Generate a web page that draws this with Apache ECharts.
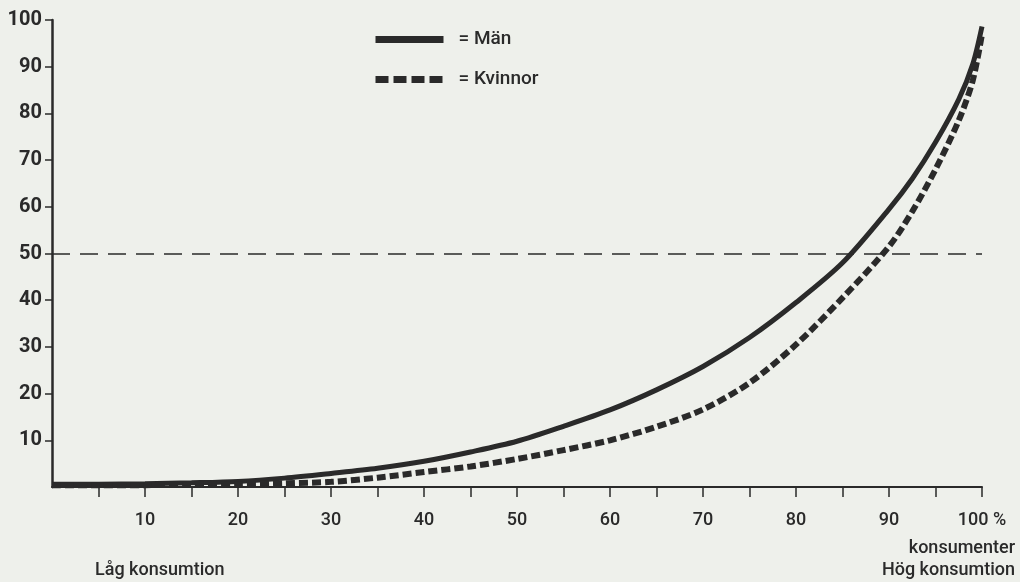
<!DOCTYPE html>
<html>
<head>
<meta charset="utf-8">
<script src="https://cdn.jsdelivr.net/npm/echarts@6/dist/echarts.min.js"></script>
<style>
html,body{margin:0;padding:0;background:#eef0eb;}
#chart{width:1020px;height:582px;}
</style>
</head>
<body>
<div id="chart"></div>
<script>
// Data
const xValues = [0,5,10,15,20,25,30,35,40,45,50,55,60,65,70,75,80,85,90,92.5,95,97.5,99,100];
const menValues = [0.6,0.6,0.7,0.9,1.2,1.9,2.9,4.0,5.5,7.5,9.8,13.0,16.5,20.8,25.8,32.0,39.5,48.0,59.5,66.0,73.8,83.0,90.5,98.6];
const womenValues = [0.4,0.4,0.4,0.5,0.6,0.8,1.1,2.0,3.2,4.4,6.0,7.9,10.0,12.9,16.6,22.3,30.5,40.5,51.5,59.0,68.0,78.5,87.0,97.0];
const yTicks = [10,20,30,40,50,60,70,80,90,100];
const xTicks = [5,10,15,20,25,30,35,40,45,50,55,60,65,70,75,80,85,90,95,100];
const xLabels = [10,20,30,40,50,60,70,80,90,100];
const seriesNames = ['Män','Kvinnor'];
const refLevel = 50;

const ink = '#2a2a2a';
const font = "Roboto,'Liberation Sans',sans-serif";

const chart = echarts.init(document.getElementById('chart'));
chart.setOption({
  backgroundColor: '#eef0eb',
  animation: false,
  grid: {left: 52, right: 38, top: 20, bottom: 95},
  legend: {
    left: 372, top: 30, orient: 'vertical', padding: 0,
    itemWidth: 68, itemHeight: 12, itemGap: 21,
    textStyle: {fontSize: 19, fontWeight: 500, color: ink, fontFamily: font, padding: [0,0,0,10]},
    formatter: name => '= ' + name,
    data: [
      {name: seriesNames[0], itemStyle: {opacity: 0}, lineStyle: {width: 7, color: ink, type: 'solid'}},
      {name: seriesNames[1], itemStyle: {opacity: 0}, lineStyle: {width: 7, color: ink, type: [13,5]}}
    ]
  },
  xAxis: {
    type: 'value', min: 0, max: 100,
    axisLine: {show: true, lineStyle: {color: ink, width: 2}},
    axisTick: {show: true, length: 10, lineStyle: {color: ink, width: 1.5}, customValues: xTicks},
    splitLine: {show: false},
    axisLabel: {
      customValues: xLabels, margin: 24, fontSize: 18, fontWeight: 500, color: ink, fontFamily: font,
      formatter: v => v === 100 ? '100 %' : String(v)
    }
  },
  yAxis: {
    type: 'value', min: 0, max: 100,
    axisLine: {show: true, lineStyle: {color: ink, width: 2.5}},
    axisTick: {show: true, length: 7, lineStyle: {color: ink, width: 1.5}, customValues: yTicks},
    splitLine: {show: false},
    axisLabel: {customValues: yTicks, margin: 10, fontSize: 20, fontWeight: 'bold', color: ink, fontFamily: font}
  },
  series: [
    {
      name: seriesNames[0], type: 'line', symbol: 'none', smooth: 0.3,
      data: xValues.map((x, i) => [x, menValues[i]]),
      lineStyle: {color: ink, width: 5, cap: 'butt'},
      itemStyle: {color: ink},
      z: 3,
      markLine: {
        silent: true, symbol: 'none', label: {show: false},
        lineStyle: {color: ink, width: 1.5, type: [18,10]},
        data: [{yAxis: refLevel}]
      }
    },
    {
      name: seriesNames[1], type: 'line', symbol: 'none', smooth: 0.3,
      data: xValues.map((x, i) => [x, womenValues[i]]),
      lineStyle: {color: ink, width: 6, type: [9,4], cap: 'butt'},
      itemStyle: {color: ink},
      z: 4
    }
  ],
  graphic: [
    {type: 'text', right: 5, top: 539, style: {text: 'konsumenter', fontSize: 18, fontWeight: 500, fill: ink, fontFamily: font}},
    {type: 'text', left: 95, top: 561, style: {text: 'Låg konsumtion', fontSize: 18, fontWeight: 500, fill: ink, fontFamily: font}},
    {type: 'text', right: 5, top: 561, style: {text: 'Hög konsumtion', fontSize: 18, fontWeight: 500, fill: ink, fontFamily: font}}
  ]
});
</script>
</body>
</html>
